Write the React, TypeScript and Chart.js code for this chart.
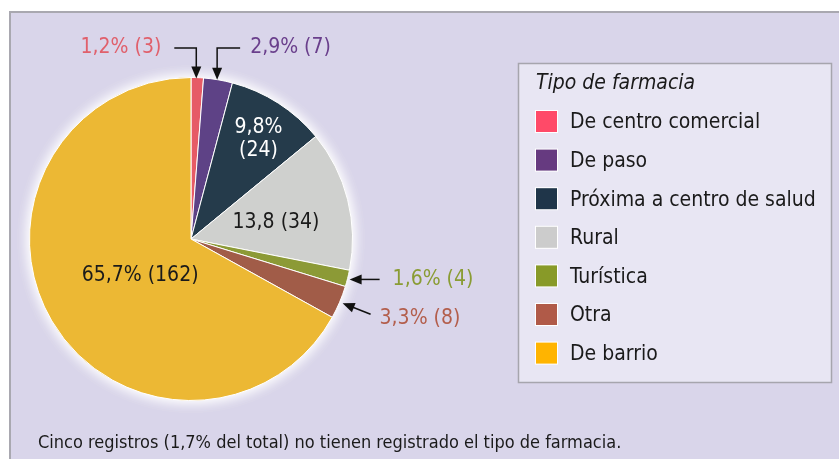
import React, { useEffect, useRef } from "react";
import { Chart, registerables } from "chart.js";

Chart.register(...registerables);

const categories = [
  "De centro comercial",
  "De paso",
  "Próxima a centro de salud",
  "Rural",
  "Turística",
  "Otra",
  "De barrio",
];
const counts = [3, 7, 24, 34, 4, 8, 162];
const valueLabels = ["1,2% (3)", "2,9% (7)", "9,8%\n(24)", "13,8 (34)", "1,6% (4)", "3,3% (8)", "65,7% (162)"];
const sliceColors = ["#e65b66", "#5e4286", "#253b4b", "#cfd0ce", "#8c9a36", "#a15c48", "#ecb834"];
const legendColors = ["#ff4a68", "#663a80", "#1f3549", "#cccccc", "#889a28", "#b05a48", "#ffb400"];
const labelColors = ["#e0606c", "#6a3f8c", "#ffffff", "#1a1a1a", "#8a9c34", "#b35e4c", "#1a1a1a"];
const legendTitle = "Tipo de farmacia";
const footnote = "Cinco registros (1,7% del total) no tienen registrado el tipo de farmacia.";

const FONT = '"DejaVu Sans Condensed", "Roboto", sans-serif';

function arrowHead(ctx: CanvasRenderingContext2D, x: number, y: number, ang: number) {
  const len = 12, w = 5;
  ctx.beginPath();
  ctx.moveTo(x, y);
  ctx.lineTo(x - len * Math.cos(ang) + w * Math.sin(ang), y - len * Math.sin(ang) - w * Math.cos(ang));
  ctx.lineTo(x - len * Math.cos(ang) - w * Math.sin(ang), y - len * Math.sin(ang) + w * Math.cos(ang));
  ctx.closePath();
  ctx.fill();
}

const decoPlugin = {
  id: "deco",
  beforeDraw(chart: any) {
    const ctx = chart.ctx as CanvasRenderingContext2D;
    ctx.save();
    ctx.fillStyle = "#ffffff";
    ctx.fillRect(0, 0, chart.width, chart.height);
    ctx.fillStyle = "#d9d5ea";
    ctx.fillRect(9, 11, chart.width - 9, chart.height - 11);
    ctx.strokeStyle = "#a9a8b0";
    ctx.lineWidth = 2;
    ctx.beginPath();
    ctx.moveTo(10, chart.height);
    ctx.lineTo(10, 12);
    ctx.lineTo(chart.width, 12);
    ctx.stroke();
    ctx.restore();
  },
  beforeDatasetsDraw(chart: any) {
    const ctx = chart.ctx as CanvasRenderingContext2D;
    const arc = chart.getDatasetMeta(0).data[0];
    if (!arc) return;
    ctx.save();
    ctx.shadowColor = "rgba(255,255,255,1)";
    ctx.shadowBlur = 14;
    ctx.fillStyle = "#ffffff";
    ctx.beginPath();
    ctx.arc(arc.x, arc.y, arc.outerRadius, 0, Math.PI * 2);
    ctx.fill();
    ctx.fill();
    ctx.restore();
  },
  afterDatasetsDraw(chart: any) {
    const ctx = chart.ctx as CanvasRenderingContext2D;
    const arcs = chart.getDatasetMeta(0).data;
    ctx.save();
    ctx.textBaseline = "middle";
    ctx.font = `21px ${FONT}`;
    const edge = (i: number, rf: number) => {
      const a = arcs[i];
      const m = (a.startAngle + a.endAngle) / 2;
      return { x: a.x + Math.cos(m) * a.outerRadius * rf, y: a.y + Math.sin(m) * a.outerRadius * rf };
    };
    // inside labels
    const inside: [number, number, number][] = [[2, 0.75, 2], [3, 0.53, 4], [6, 0.38, 5]];
    ctx.textAlign = "center";
    inside.forEach(([i, rf, dy]) => {
      const p = edge(i, rf);
      ctx.fillStyle = labelColors[i];
      const lines = valueLabels[i].split("\n");
      lines.forEach((ln, k) => {
        ctx.fillText(ln, p.x + 2, p.y + dy + (k - (lines.length - 1) / 2) * 23);
      });
    });
    ctx.strokeStyle = "#111111";
    ctx.fillStyle = "#111111";
    ctx.lineWidth = 1.5;
    // 0: red, elbow arrow from left
    {
      const p = edge(0, 1);
      const ty = 48;
      ctx.beginPath();
      ctx.moveTo(p.x - 23, ty);
      ctx.lineTo(p.x - 1, ty);
      ctx.lineTo(p.x - 1, p.y - 10);
      ctx.stroke();
      arrowHead(ctx, p.x - 1, p.y + 1, Math.PI / 2);
      ctx.fillStyle = labelColors[0];
      ctx.textAlign = "right";
      ctx.fillText(valueLabels[0], p.x - 36, ty);
      ctx.fillStyle = "#111111";
    }
    // 1: purple, elbow arrow from right
    {
      const p = edge(1, 1);
      const ty = 48;
      ctx.beginPath();
      ctx.moveTo(p.x + 22, ty);
      ctx.lineTo(p.x - 1, ty);
      ctx.lineTo(p.x - 1, p.y - 10);
      ctx.stroke();
      arrowHead(ctx, p.x - 1, p.y, Math.PI / 2);
      ctx.fillStyle = labelColors[1];
      ctx.textAlign = "left";
      ctx.fillText(valueLabels[1], p.x + 32, ty);
      ctx.fillStyle = "#111111";
    }
    // 4: turística, horizontal arrow
    {
      const p = edge(4, 1);
      ctx.beginPath();
      ctx.moveTo(p.x + 32, p.y + 1);
      ctx.lineTo(p.x + 10, p.y + 1);
      ctx.stroke();
      arrowHead(ctx, p.x + 2, p.y + 1, Math.PI);
      ctx.fillStyle = labelColors[4];
      ctx.textAlign = "left";
      ctx.fillText(valueLabels[4], p.x + 45, p.y + 1);
      ctx.fillStyle = "#111111";
    }
    // 5: otra, diagonal arrow
    {
      const p = edge(5, 1);
      const sx = p.x + 31, sy = p.y + 12;
      const tx = p.x + 3, ty = p.y + 1;
      const ang = Math.atan2(ty - sy, tx - sx);
      ctx.beginPath();
      ctx.moveTo(sx, sy);
      ctx.lineTo(tx - 9 * Math.cos(ang), ty - 9 * Math.sin(ang));
      ctx.stroke();
      arrowHead(ctx, tx, ty, ang);
      ctx.fillStyle = labelColors[5];
      ctx.textAlign = "left";
      ctx.fillText(valueLabels[5], p.x + 40, p.y + 16);
    }
    ctx.restore();
  },
  afterDraw(chart: any) {
    const ctx = chart.ctx as CanvasRenderingContext2D;
    ctx.save();
    // legend box
    const bx = 518, by = 63, bw = 313, bh = 319;
    ctx.fillStyle = "#e8e6f3";
    ctx.fillRect(bx, by, bw, bh);
    ctx.strokeStyle = "#a6a5ad";
    ctx.lineWidth = 1.5;
    ctx.strokeRect(bx + 0.5, by + 0.5, bw, bh);
    ctx.textBaseline = "middle";
    ctx.textAlign = "left";
    ctx.fillStyle = "#1a1a1a";
    ctx.font = `italic 21px ${FONT}`;
    ctx.fillText(legendTitle, 536, 84);
    ctx.font = `21px ${FONT}`;
    categories.forEach((c, i) => {
      const y = 122 + i * 38.6;
      ctx.fillStyle = "#ffffff";
      ctx.fillRect(535, y - 12, 23, 23);
      ctx.fillStyle = legendColors[i];
      ctx.fillRect(536, y - 11, 21, 21);
      ctx.fillStyle = "#1a1a1a";
      ctx.fillText(c, 570, y + 1);
    });
    // footnote
    ctx.font = `18px ${FONT}`;
    ctx.fillStyle = "#1a1a1a";
    ctx.fillText(footnote, 38, 443);
    ctx.restore();
  },
};

export default function App() {
  const ref = useRef<HTMLCanvasElement>(null);
  useEffect(() => {
    document.body.style.margin = "0";
    const chart = new Chart(ref.current!, {
      type: "pie",
      data: {
        labels: categories,
        datasets: [
          {
            data: counts,
            backgroundColor: sliceColors,
            borderColor: "#ffffff",
            borderWidth: 1,
          },
        ],
      },
      options: {
        animation: false,
        responsive: false,
        maintainAspectRatio: false,
        layout: { padding: { left: 29, top: 77, right: 486, bottom: 58 } },
        plugins: { legend: { display: false }, tooltip: { enabled: false } },
      },
      plugins: [decoPlugin],
    });
    return () => chart.destroy();
  }, []);
  return (
    <div style={{ width: 839, height: 459 }}>
      <canvas ref={ref} width={839} height={459} style={{ display: "block" }} />
    </div>
  );
}
